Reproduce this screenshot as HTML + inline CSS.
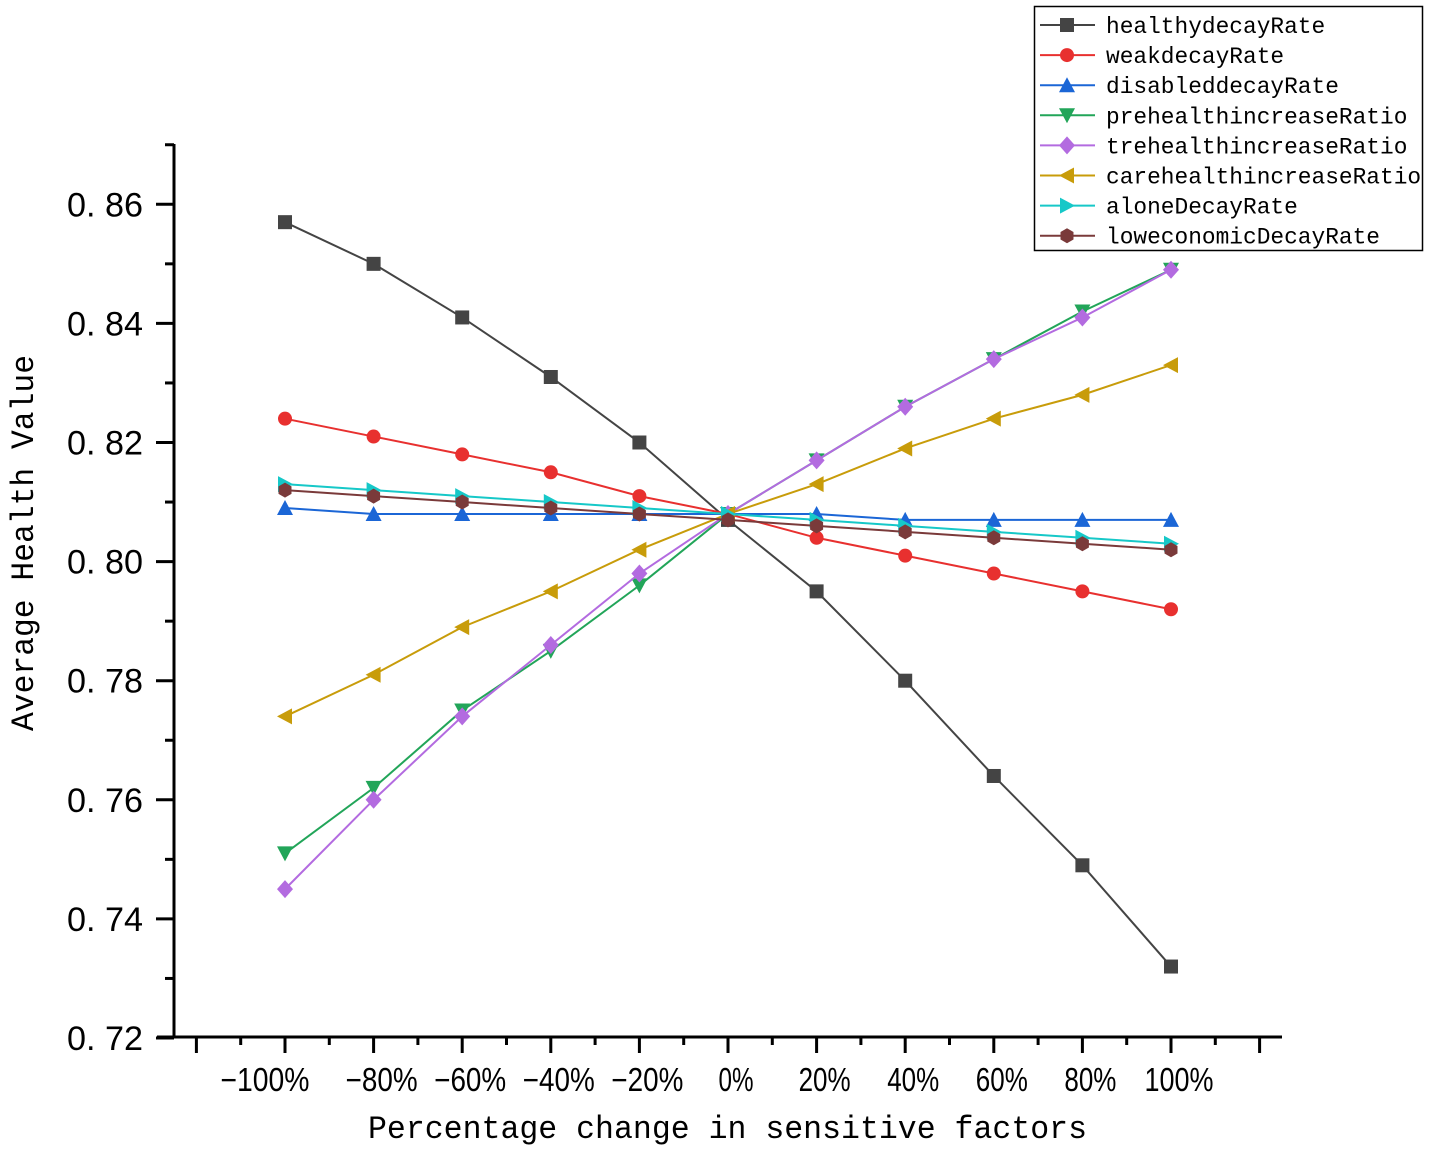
<!DOCTYPE html>
<html><head><meta charset="utf-8"><style>
body{margin:0;background:#fff}
svg{display:block}
text{font-family:"Liberation Sans","Noto Sans CJK SC",sans-serif;fill:#000}
.mono{font-family:"Liberation Mono","Noto Sans CJK SC",monospace}
</style></head><body>
<svg id="chart" width="1430" height="1150" viewBox="0 0 1430 1150" xmlns="http://www.w3.org/2000/svg"></svg>
<script>
const categories=[-100,-80,-60,-40,-20,0,20,40,60,80,100];
const seriesNames=["healthydecayRate","weakdecayRate","disableddecayRate","prehealthincreaseRatio","trehealthincreaseRatio","carehealthincreaseRatio","aloneDecayRate","loweconomicDecayRate"];
const healthy=[.857,.850,.841,.831,.820,.807,.795,.780,.764,.749,.732];
const weak=[.824,.821,.818,.815,.811,.808,.804,.801,.798,.795,.792];
const disabled=[.809,.808,.808,.808,.808,.808,.808,.807,.807,.807,.807];
const pre=[.751,.762,.775,.785,.796,.808,.817,.826,.834,.842,.849];
const tre=[.745,.760,.774,.786,.798,.808,.817,.826,.834,.841,.849];
const care=[.774,.781,.789,.795,.802,.808,.813,.819,.824,.828,.833];
const alone=[.813,.812,.811,.810,.809,.808,.807,.806,.805,.804,.803];
const loweco=[.812,.811,.810,.809,.808,.807,.806,.805,.804,.803,.802];
const yTicks=[0.72,0.74,0.76,0.78,0.80,0.82,0.84,0.86];
const yTickLabels=["0. 72","0. 74","0. 76","0. 78","0. 80","0. 82","0. 84","0. 86"];
const xTickLabels=["\u2212100%","\u221280%","\u221260%","\u221240%","\u221220%","0%","20%","40%","60%","80%","100%"];

const svg=document.getElementById('chart');
const NS="http://www.w3.org/2000/svg";
const X=v=>728+(v/20)*88.6;
const Y=v=>1038-(v-0.72)/0.02*119.1;
function mk(tag,attrs,parent){const e=document.createElementNS(NS,tag);for(const k in attrs)e.setAttribute(k,attrs[k]);(parent||svg).appendChild(e);return e;}

const axes=mk('g',{});


const yAxis=mk('line',{x1:174,y1:144,x2:174,y2:1038,stroke:'#000','stroke-width':3},axes);


const xAxis=mk('line',{x1:157,y1:1037,x2:1282,y2:1037,stroke:'#000','stroke-width':3},axes);


for(let v=0.72;v<=0.8701;v+=0.01){
  const major=Math.round(v*100)%2===0;
  const t=mk('line',{x1:major?156:165,x2:174,y1:Y(v),y2:Y(v),stroke:'#000','stroke-width':3},axes);
  
  
}
yTicks.forEach((v,i)=>{
  const t=mk('text',{x:67,y:Y(v)+12,'font-size':34,textLength:76,lengthAdjust:'spacingAndGlyphs'},axes);
  t.textContent=yTickLabels[i];
  
  
});
for(let p=-120;p<=120;p+=10){
  const major=p%20===0;
  const t=mk('line',{x1:X(p),x2:X(p),y1:1037,y2:major?1053:1045,stroke:'#000','stroke-width':3},axes);
  
  
}
categories.forEach((c,i)=>{
  const lab=xTickLabels[i];
  const neg=lab[0]==='\u2212';
  const digits=lab.length-1-(neg?1:0);
  const w=digits*17+18+(neg?20:0);
  const cx=X(c)+(c===-100?-20:8);
  const t=mk('text',{x:cx-w/2,y:1091,'font-size':33,textLength:w,lengthAdjust:'spacingAndGlyphs'},axes);
  t.textContent=lab;
  
  
});
const xt=mk('text',{x:368,y:1138,'font-size':32,class:'mono',textLength:719,lengthAdjust:'spacingAndGlyphs'});
xt.textContent="Percentage change in sensitive factors";


const yt=mk('text',{x:0,y:0,'font-size':32,class:'mono',textLength:376,lengthAdjust:'spacingAndGlyphs',transform:'translate(33,731) rotate(-90)'});
yt.textContent="Average Health Value";



const colors=["#444444","#e8302f","#1b66d6","#22a559","#b36be0","#c89c0a","#16c8c8","#7a3a3a"];
const shapes=["square","circle","up","down","diamond","left","right","hex"];
const data=[healthy,weak,disabled,pre,tre,care,alone,loweco];
function marker(shape,x,y,c,parent){
  const s=7;let e;
  if(shape==="square")e=mk('rect',{x:x-s,y:y-s,width:2*s,height:2*s,fill:c},parent);
  else if(shape==="circle")e=mk('circle',{cx:x,cy:y,r:s,fill:c},parent);
  else{
    let pts;
    if(shape==="up")pts=[[0,-8],[8,7],[-8,7]];
    else if(shape==="down")pts=[[0,8],[8,-7],[-8,-7]];
    else if(shape==="left")pts=[[-8,0],[7,-8],[7,8]];
    else if(shape==="right")pts=[[8,0],[-7,-8],[-7,8]];
    else if(shape==="diamond")pts=[[0,-9],[8,0],[0,9],[-8,0]];
    else pts=[0,1,2,3,4,5].map(k=>[7.5*Math.cos(Math.PI/3*k+Math.PI/6),7.5*Math.sin(Math.PI/3*k+Math.PI/6)]);
    e=mk('polygon',{points:pts.map(p=>(x+p[0])+','+(y+p[1])).join(' '),fill:c},parent);
  }
  return e;
}
data.forEach((arr,si)=>{
  const g=mk('g',{});
  
  
  const ln=mk('polyline',{points:arr.map((v,i)=>X(categories[i])+','+Y(v)).join(' '),fill:'none',stroke:colors[si],'stroke-width':2},g);
  
  
  arr.forEach((v,i)=>{
    const m=marker(shapes[si],X(categories[i]),Y(v),colors[si],g);
    
    
  });
});

const lg=mk('g',{});


const box=mk('rect',{x:1034.5,y:6.5,width:388,height:244,fill:'#fff',stroke:'#000','stroke-width':1.5},lg);


seriesNames.forEach((n,i)=>{
  const y=25+i*30.1;
  const eg=mk('g',{},lg);
  
  
  mk('line',{x1:1040,x2:1095,y1:y,y2:y,stroke:colors[i],'stroke-width':2},eg);
  marker(shapes[i],1067,y,colors[i],eg);
  const t=mk('text',{x:1106,y:y+8,'font-size':23,class:'mono',textLength:n.length*13.7,lengthAdjust:'spacingAndGlyphs'},eg);
  t.textContent=n;
});
</script>
</body></html>
